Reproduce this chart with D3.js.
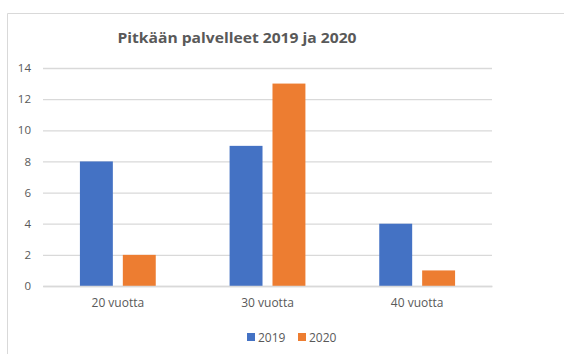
<!DOCTYPE html>
<html><head><meta charset="utf-8">
<script src="https://cdn.jsdelivr.net/npm/d3@7"></script>
<style>body{margin:0;background:#fff}svg{display:block}text{font-family:"Open Sans",sans-serif;fill:#595959}</style>
</head><body><svg id="c" width="564" height="354"></svg>
<script>
const title = "Pitkään palvelleet 2019 ja 2020";
const categories = ["20 vuotta", "30 vuotta", "40 vuotta"];
const seriesNames = ["2019", "2020"];
const values2019 = [8, 9, 4];
const values2020 = [2, 13, 1];
const yTicks = [0, 2, 4, 6, 8, 10, 12, 14];
const colors = ["#4472C4", "#ED7D31"];

const svg = d3.select("#c");
// frame
svg.append("path").attr("d","M7.5,354 L7.5,13.5 L564,13.5").attr("fill","none").attr("stroke","#D9D9D9").attr("stroke-width",1);

const x0 = d3.scaleBand().domain(categories).range([43, 492]).padding(0);
const x1 = d3.scaleBand().domain(seriesNames).range([0, x0.bandwidth()]).paddingInner(0.2326).paddingOuter(0.8605);
const y = d3.scaleLinear().domain([0, 14]).range([286, 68]);

// gridlines
const yAxis = d3.axisLeft(y).tickValues(yTicks).tickSize(-(492-43)).tickPadding(12);
const gy = svg.append("g").attr("transform","translate(43,0)").call(yAxis);
gy.select(".domain").remove();
gy.selectAll(".tick line").attr("stroke","#D9D9D9").attr("stroke-width",1.3);
gy.selectAll(".tick text").attr("font-size",11.5).attr("fill","#595959").attr("font-family","Open Sans, sans-serif");

const data = categories.map((c,i)=>({cat:c, vals:[values2019[i], values2020[i]]}));
const g = svg.append("g");
data.forEach(d=>{
  d.vals.forEach((v,j)=>{
    g.append("rect")
     .attr("x", x0(d.cat) + x1(seriesNames[j]))
     .attr("width", x1.bandwidth())
     .attr("y", y(v))
     .attr("height", y(0)-y(v))
     .attr("fill", colors[j]);
  });
});

// x axis
const xAxis = d3.axisBottom(x0).tickSize(0).tickPadding(12);
const gx = svg.append("g").attr("transform","translate(0,286)").call(xAxis);
gx.select(".domain").attr("stroke","#D9D9D9").attr("stroke-width",1.3);
gx.selectAll(".tick text").attr("font-size",12).attr("fill","#595959").attr("font-family","Open Sans, sans-serif");

// title
svg.append("text").attr("x",237).attr("y",43).attr("text-anchor","middle")
  .attr("font-size",15).attr("font-weight","bold").attr("fill","#595959")
  .attr("textLength",239).attr("lengthAdjust","spacingAndGlyphs")
  .text(title);

// legend
const legendX = [247, 298];
seriesNames.forEach((s,j)=>{
  svg.append("rect").attr("x",legendX[j]).attr("y",333).attr("width",8).attr("height",8).attr("fill",colors[j]);
  svg.append("text").attr("x",legendX[j]+11).attr("y",341.5).attr("font-size",12).attr("fill","#595959").text(s);
});
</script></body></html>
